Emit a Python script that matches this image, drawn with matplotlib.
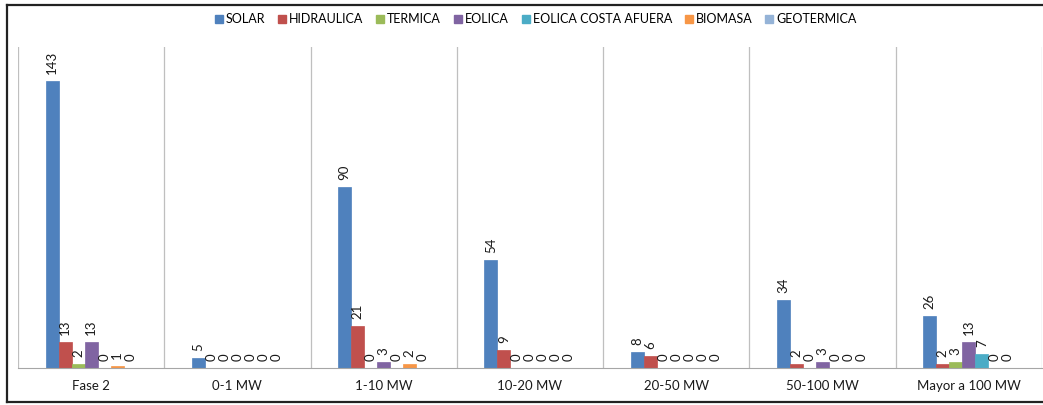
import numpy as np
import matplotlib
matplotlib.use("Agg")
import matplotlib.pyplot as plt
from matplotlib.lines import Line2D

plt.rcParams['font.family'] = ['Lato', 'DejaVu Sans']

categories = ["Fase 2", "0-1 MW", "1-10 MW", "10-20 MW", "20-50 MW", "50-100 MW", "Mayor a 100 MW"]
series_names = ["SOLAR", "HIDRAULICA", "TERMICA", "EOLICA", "EOLICA COSTA AFUERA", "BIOMASA", "GEOTERMICA"]

solar = [143, 5, 90, 54, 8, 34, 26]
hidraulica = [13, 0, 21, 9, 6, 2, 2]
termica = [2, 0, 0, 0, 0, 0, 3]
eolica = [13, 0, 3, 0, 0, 3, 13]
eolica_costa = [0, 0, 0, 0, 0, 0, 7]
biomasa = [1, 0, 2, 0, 0, 0, 0]
geotermica = [0, 0, 0, 0, 0, 0, 0]

values = [solar, hidraulica, termica, eolica, eolica_costa, biomasa, geotermica]
colors = ["#4F81BD", "#C0504D", "#9BBB59", "#8064A2", "#4BACC6", "#F79646", "#95B3D7"]

W, H = 1043, 405
fig = plt.figure(figsize=(W / 100, H / 100), dpi=100)
ax = fig.add_axes([18 / W, 1 - 368 / H, (1042 - 18) / W, (368 - 47) / H])

bw = 0.089
n = len(series_names)
x = np.arange(len(categories))
for i, (name, vals, c) in enumerate(zip(series_names, values, colors)):
    pos = x + (i - (n - 1) / 2) * bw
    ax.bar(pos, vals, width=bw, color=c, edgecolor=c, linewidth=0.5, label=name)
    for p, v in zip(pos, vals):
        ax.text(p, v + 3.5, str(v), rotation=90, ha='center', va='bottom',
                fontsize=9.5, color='#1a1a1a')

ax.set_xlim(-0.5, len(categories) - 0.5)
ax.set_ylim(0, 160)
ax.set_yticks([])
ax.set_xticks(x)
ax.set_xticklabels(categories, fontsize=9.5, color='#1a1a1a')
ax.tick_params(axis='x', length=0, pad=9)
for s in ['top', 'right', 'left']:
    ax.spines[s].set_visible(False)
ax.spines['bottom'].set_color('#A6A6A6')
for b in np.arange(-0.5, len(categories) + 0.5, 1.0):
    ax.axvline(b, color='#BFBFBF', linewidth=0.9)

handles = [Line2D([0], [0], marker='s', linestyle='none', markersize=5.5,
                  markerfacecolor=c, markeredgecolor=c) for c in colors]
fig.legend(handles, series_names, loc='center', bbox_to_anchor=(535 / W, 1 - 19 / H),
           ncol=n, frameon=False, fontsize=9, handletextpad=0.1, columnspacing=0.9,
           handlelength=0.9)

# outer frame
for xs, ys in [((7, 1050), (5, 5)), ((7, 7), (5, 402)), ((7, 1050), (402, 402))]:
    fig.add_artist(Line2D([v / W for v in xs], [1 - v / H for v in ys],
                          color='#222222', linewidth=1.6))

fig.savefig("out.png", dpi=100)
